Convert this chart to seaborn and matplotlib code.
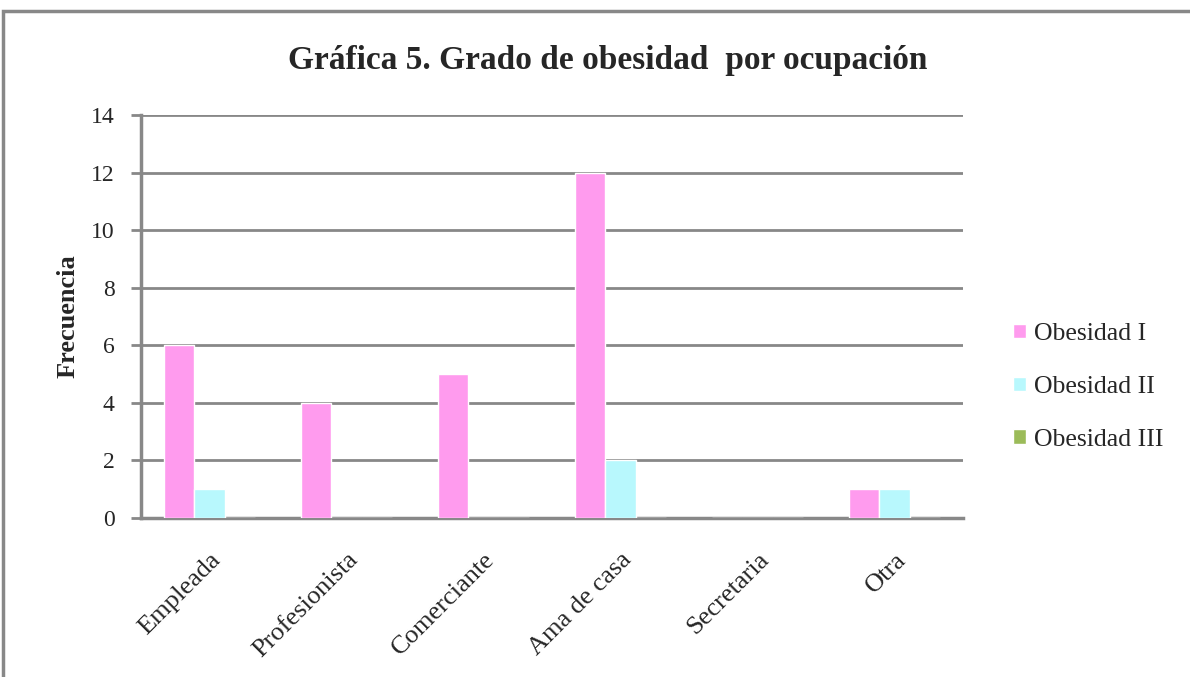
import numpy as np
import pandas as pd
import matplotlib.pyplot as plt
import seaborn as sns
from matplotlib.patches import Rectangle

ocupaciones = ['Empleada', 'Profesionista', 'Comerciante', 'Ama de casa', 'Secretaria', 'Otra']
obesidad_1 = [6, 4, 5, 12, 0, 1]
obesidad_2 = [1, 0, 0, 2, 0, 1]
obesidad_3 = [0, 0, 0, 0, 0, 0]
grados = ['Obesidad I', 'Obesidad II', 'Obesidad III']
colores = ['#FF9BEE', '#B8F8FD', '#9BBB59']

# Long format for seaborn
df = pd.DataFrame({
    'ocupacion': ocupaciones * 3,
    'grado': [grados[0]] * 6 + [grados[1]] * 6 + [grados[2]] * 6,
    'frecuencia': obesidad_1 + obesidad_2 + obesidad_3,
})

sns.set_style('white')
plt.rcParams['font.family'] = ['Liberation Serif', 'DejaVu Serif']

fig = plt.figure(figsize=(11.9, 6.77), dpi=100)
ax = fig.add_axes([141 / 1190, 1 - 518 / 677, 822 / 1190, 403 / 677])

sns.barplot(data=df, x='ocupacion', y='frecuencia', hue='grado', order=ocupaciones,
            hue_order=grados, palette=colores, width=0.66, gap=0, saturation=1,
            errorbar=None, ax=ax, zorder=3)

ax.set_ylim(0, 14)
ax.set_yticks(range(0, 15, 2))
ax.set_xlim(-0.5, 5.5)
ax.yaxis.grid(True, color='#888888', linewidth=2, zorder=0)
ax.set_axisbelow(True)
for s in ['top', 'right']:
    ax.spines[s].set_visible(False)
for s in ['left', 'bottom']:
    ax.spines[s].set_color('#888888')
    ax.spines[s].set_linewidth(2.5)
ax.tick_params(axis='y', length=7, width=2, color='#888888', labelsize=17, pad=12, left=True)
ax.tick_params(axis='x', length=0, labelsize=19, pad=22)
plt.setp(ax.get_xticklabels(), rotation=45, ha='right', rotation_mode='anchor')

ax.set_xlabel('')
ax.set_ylabel('Frecuencia', fontsize=19, fontweight='bold', labelpad=8)
fig.text(608 / 1190, 1 - 60 / 677, 'Gráfica 5. Grado de obesidad  por ocupación',
         ha='center', va='center', fontsize=24, fontweight='bold')

leg = ax.legend(loc='center left', bbox_to_anchor=(1.033, 0.325), frameon=False,
                fontsize=18.5, handlelength=0.5, handleheight=0.5, handletextpad=0.3,
                labelspacing=1.2)

# outer chart frame
fig.patches.append(Rectangle((3 / 1190, -0.1), 1.2, 1 - 11 / 677 + 0.1,
                             transform=fig.transFigure, fill=False,
                             edgecolor='#888888', linewidth=2.5))

fig.savefig('out.png', dpi=100)
